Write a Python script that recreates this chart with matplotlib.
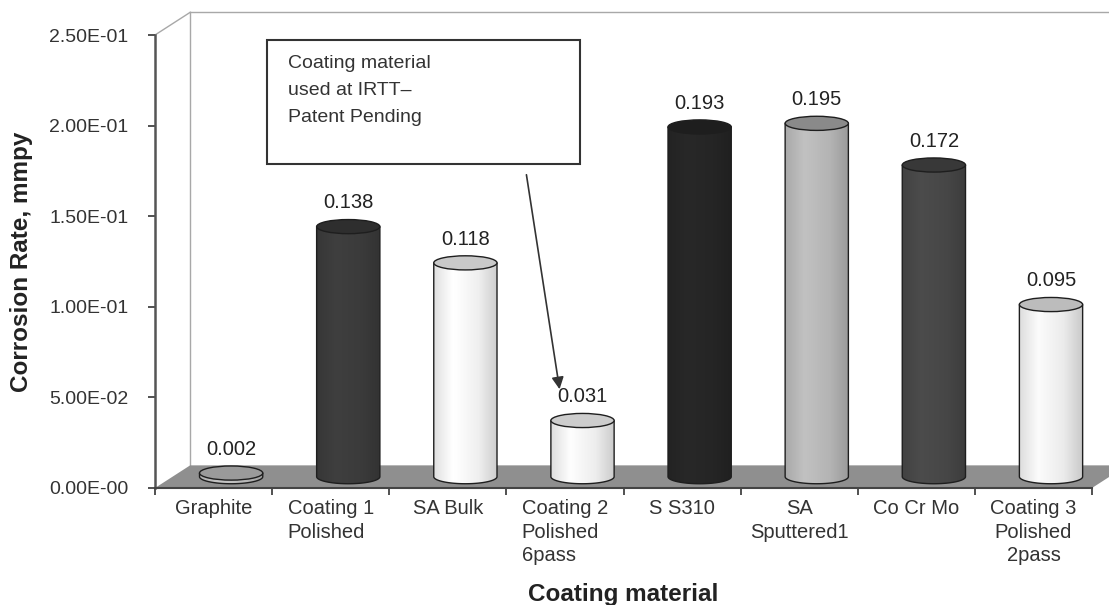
import numpy as np
import matplotlib
matplotlib.use("Agg")
import matplotlib.pyplot as plt
from matplotlib.patches import Polygon, Ellipse, Rectangle, PathPatch
from matplotlib.path import Path
from matplotlib.colors import to_rgb

plt.rcParams["font.family"] = ["Liberation Sans", "DejaVu Sans"]

# ── Données ──
materials = ["Graphite", "Coating 1\nPolished", "SA Bulk", "Coating 2\nPolished\n6pass",
             "S S310", "SA\nSputtered1", "Co Cr Mo", "Coating 3\nPolished\n2pass"]
label_align = ["center", "left", "center", "left", "center", "center", "center", "center"]
corrosion_rate = [0.002, 0.138, 0.118, 0.031, 0.193, 0.195, 0.172, 0.095]
body_colors = ["#bdbdbd", "#3c3c3c", "#f4f4f4", "#f2f2f2", "#262626", "#b8b8b8", "#484848", "#f0f0f0"]
top_colors = ["#9a9a9a", "#2e2e2e", "#c9c9c9", "#cdcdcd", "#1e1e1e", "#8a8a8a", "#383838", "#bcbcbc"]
yticks = [0.0, 0.05, 0.10, 0.15, 0.20, 0.25]
ytick_labels = ["0.00E-00", "5.00E-02", "1.00E-01", "1.50E-01", "2.00E-01", "2.50E-01"]
note_lines = ["Coating material", "used at IRTT\u2013", "Patent Pending"]

# ── Géométrie pseudo-3D ──
W, H = 1109, 605
DX, DY = 0.30, 0.0125      # profondeur du plancher (unités catégorie / valeur)
BAR_W, ELL_H = 0.54, 0.0078

fig = plt.figure(figsize=(W / 100, H / 100), dpi=100)
ax = fig.add_axes([155 / W, 1 - 488 / H, (1092 - 155) / W, (488 - 35) / H])
n = len(materials)

# plancher + parois
floor = Polygon([(0, 0), (n, 0), (n + DX, DY), (DX, DY)], closed=True,
                facecolor="#8f8f8f", edgecolor="none", zorder=1, clip_on=False)
ax.add_patch(floor)
wall_kw = dict(color="#a8a8a8", lw=1, clip_on=False, zorder=0.5)
ax.plot([DX, DX], [DY, yticks[-1] + DY], **wall_kw)
ax.plot([DX, n + DX], [yticks[-1] + DY] * 2, **wall_kw)
ax.plot([0, DX], [yticks[-1], yticks[-1] + DY], **wall_kw)

# cylindres
t = np.linspace(0, np.pi, 60)
shade = np.interp(np.linspace(0, 1, 80), [0, 0.3, 0.7, 1], [0.92, 1.05, 0.98, 0.84])
for i, v in enumerate(corrosion_rate):
    cx = i + 0.5 + DX / 2
    b = DY / 2
    xl, xr = cx - BAR_W / 2, cx + BAR_W / 2
    arc_x = cx - BAR_W / 2 * np.cos(t)
    arc_y = b - ELL_H / 2 * np.sin(t)
    verts = [(xl, b + v)] + list(zip(arc_x, arc_y)) + [(xr, b + v), (xl, b + v)]
    body = Path(verts, closed=True)

    rgb = np.clip(np.outer(shade, to_rgb(body_colors[i])), 0, 1)[None, :, :]
    img = ax.imshow(rgb, extent=[xl, xr, b - ELL_H / 2, b + v], aspect="auto",
                    interpolation="bilinear", zorder=3)
    clip = PathPatch(body, transform=ax.transData, facecolor="none", edgecolor="none")
    ax.add_patch(clip)
    img.set_clip_path(clip)
    ax.add_patch(PathPatch(body, facecolor="none", edgecolor="#1e1e1e", lw=1, zorder=4))
    ax.add_patch(Ellipse((cx, b + v), BAR_W, ELL_H, facecolor=top_colors[i],
                         edgecolor="#1e1e1e", lw=1, zorder=5))
    ax.annotate(f"{v:.3f}", (cx, b + v + ELL_H / 2), xytext=(0, 8),
                textcoords="offset points", ha="center", va="baseline",
                fontsize=14.5, color="#222222")

ax.set_xlim(0, n)
ax.set_ylim(0, yticks[-1])

# axes
for side in ["top", "right"]:
    ax.spines[side].set_visible(False)
ax.spines["left"].set_color("#555555")
ax.spines["left"].set_linewidth(1.8)
ax.spines["bottom"].set_color("#444444")
ax.spines["bottom"].set_linewidth(1.5)

ax.set_yticks(yticks)
ax.set_yticklabels(ytick_labels, fontsize=14, color="#333333")
ax.tick_params(axis="y", direction="out", length=5, width=1.2, color="#333333", pad=14)

ax.set_xticks(np.arange(n + 1))
ax.set_xticklabels([])
ax.set_xticks(np.arange(n) + 0.5, minor=True)
ax.set_xticklabels(materials, minor=True, fontsize=14.5, color="#333333")
ax.tick_params(axis="x", which="major", direction="out", length=5, width=1.2, color="#333333")
ax.tick_params(axis="x", which="minor", length=0, pad=8)
for lab, al in zip(ax.get_xticklabels(minor=True), label_align):
    lab.set_multialignment(al)
    lab.set_linespacing(1.3)

ax.set_xlabel("Coating material", fontsize=17.5, fontweight="bold", color="#222222",
              va="center")
ax.xaxis.set_label_coords(0.5, -0.236)
ax.set_ylabel("Corrosion Rate, mmpy", fontsize=17.5, fontweight="bold", color="#222222",
              va="center", ha="center")
ax.yaxis.set_label_coords(-0.142, 0.5)

# encadré + flèche
box = Rectangle((267 / W, 1 - 164 / H), (580 - 267) / W, (164 - 40) / H,
                transform=fig.transFigure, facecolor="white", edgecolor="#333333", lw=1.5)
fig.add_artist(box)
for k, line in enumerate(note_lines):
    fig.text(288 / W, 1 - (63 + 27.5 * k) / H, line, fontsize=14, color="#333333",
             ha="left", va="center")
ax.annotate("", xy=(560 / W, 1 - 392 / H), xycoords="figure fraction",
            xytext=(526 / W, 1 - 172 / H), textcoords="figure fraction",
            arrowprops=dict(arrowstyle="-|>", color="#333333", lw=1.2, mutation_scale=18))

plt.savefig("out.png", dpi=100)
plt.close()
